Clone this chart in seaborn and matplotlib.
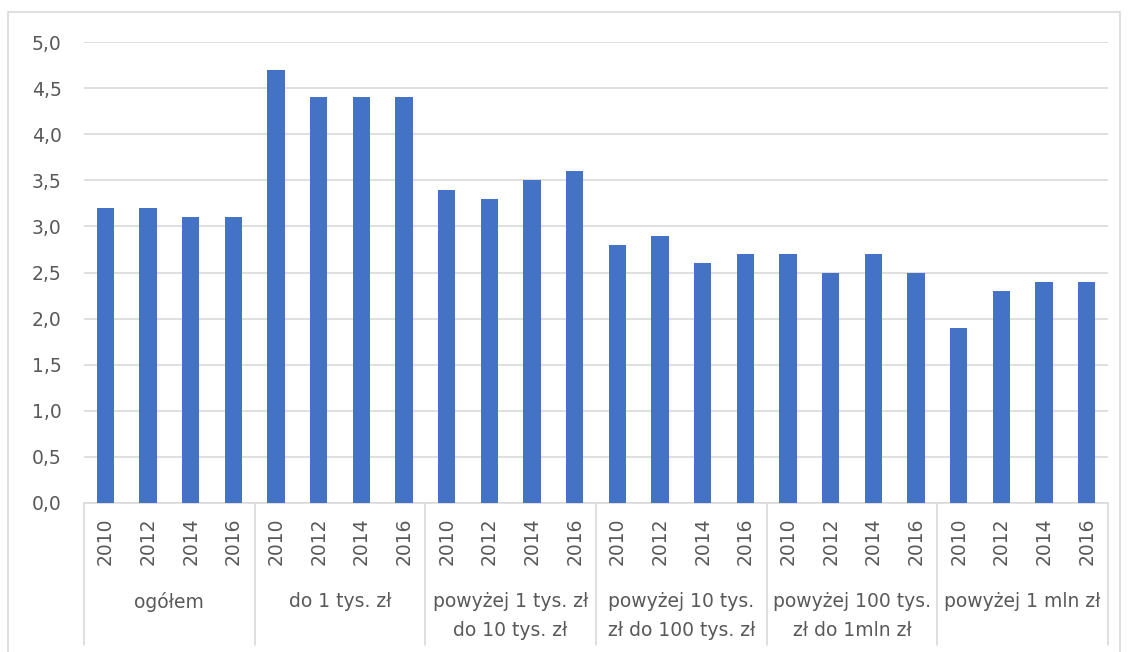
import pandas as pd
import numpy as np
import matplotlib
matplotlib.use("Agg")
import matplotlib.pyplot as plt
import seaborn as sns
from matplotlib.patches import Rectangle

# dane
grupy = ["ogółem", "do 1 tys. zł", "powyżej 1 tys. zł\ndo 10 tys. zł",
         "powyżej 10 tys.\nzł do 100 tys. zł", "powyżej 100 tys.\nzł do 1mln zł",
         "powyżej 1 mln zł"]
lata = ["2010", "2012", "2014", "2016"]
wartosci = [
    [3.2, 3.2, 3.1, 3.1],
    [4.7, 4.4, 4.4, 4.4],
    [3.4, 3.3, 3.5, 3.6],
    [2.8, 2.9, 2.6, 2.7],
    [2.7, 2.5, 2.7, 2.5],
    [1.9, 2.3, 2.4, 2.4],
]
y_ticks = [0.0, 0.5, 1.0, 1.5, 2.0, 2.5, 3.0, 3.5, 4.0, 4.5, 5.0]

rows = []
for g, vals in zip(grupy, wartosci):
    for r, v in zip(lata, vals):
        rows.append({"klucz": f"{g}|{r}", "grupa": g, "rok": r, "wartosc": v})
df = pd.DataFrame(rows)

sns.set_style("white")
plt.rcParams["font.family"] = ["DejaVu Sans"]
szary = "#595959"
linia = "#D9D9D9"
fs = 13.5

fig = plt.figure(figsize=(11.29, 6.52), dpi=100)
ax = fig.add_axes([84 / 1129, 1 - 503 / 652, 1024 / 1129, 461 / 652])

sns.barplot(data=df, x="klucz", y="wartosc", color="#4472C4",
            width=0.4, saturation=1, linewidth=0, ax=ax, zorder=3)

ax.set_ylim(0, 5.0)
ax.set_xlim(-0.5, len(df) - 0.5)
ax.set_yticks(y_ticks)
ax.set_yticklabels([f"{t:.1f}".replace(".", ",") for t in y_ticks],
                   fontsize=fs, color=szary)
ax.tick_params(axis="y", length=0, pad=16)
ax.set_xticks([])
ax.set_xlabel("")
ax.set_ylabel("")
ax.yaxis.grid(True, color=linia, linewidth=1.2, zorder=0)
for s in ["top", "right", "left"]:
    ax.spines[s].set_visible(False)
ax.spines["bottom"].set_color(linia)
ax.spines["bottom"].set_linewidth(1.2)

trans = ax.get_xaxis_transform()
dol = -(645 - 503) / 461

# etykiety lat
for i, r in enumerate(df["rok"]):
    ax.text(i, -(541 - 503) / 461, r, rotation=90, ha="center", va="center",
            fontsize=fs, color=szary, transform=trans)

# etykiety grup i separatory
for k, g in enumerate(grupy):
    srodek = k * 4 + 1.5
    ax.text(srodek, -(592 - 503) / 461, g, ha="center", va="top",
            fontsize=fs, color=szary, transform=trans, linespacing=1.7)
for k in range(len(grupy) + 1):
    ax.plot([k * 4 - 0.5, k * 4 - 0.5], [0, dol], color=linia, lw=1.2,
            transform=trans, clip_on=False)

# ramka wykresu
fig.patches.append(Rectangle((8 / 1129, -0.01), 1112 / 1129, 1 - 12 / 652 + 0.01,
                             transform=fig.transFigure, fill=False,
                             edgecolor=linia, linewidth=1.2))

fig.savefig("out.png", dpi=100)
